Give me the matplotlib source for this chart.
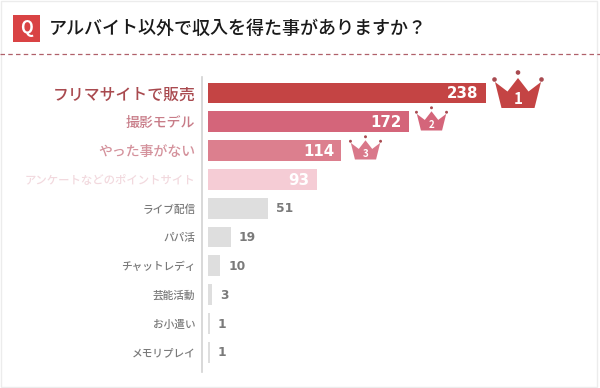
import matplotlib
matplotlib.use('Agg')
import matplotlib.pyplot as plt
from matplotlib.patches import Polygon, Circle, Rectangle

plt.rcParams['font.family'] = ['Noto Sans CJK JP', 'DejaVu Sans']

title = 'アルバイト以外で収入を得た事がありますか？'
categories = ['フリマサイトで販売', '撮影モデル', 'やった事がない', 'アンケートなどのポイントサイト',
              'ライブ配信', 'パパ活', 'チャットレディ', '芸能活動', 'お小遣い', 'メモリプレイ']
values = [238, 172, 114, 93, 51, 19, 10, 3, 1, 1]

bar_colors = ['#c44444', '#d4657a', '#dc7f8e', '#f5ccd5'] + ['#dedede'] * 6
label_colors = ['#a94a4f', '#c87c88', '#d4929c', '#f2d9de'] + ['#7a7a7a'] * 6
label_sizes = [11.4, 10, 10, 8.2, 7.7, 7.7, 7.7, 7.7, 7.7, 7.7]

W, H = 600, 388
fig = plt.figure(figsize=(W / 100, H / 100), dpi=100, facecolor='white')

# overlay in pixel coords for the header and crowns
deco = fig.add_axes([0, 0, 1, 1], zorder=3)
deco.set_xlim(0, W)
deco.set_ylim(H, 0)
deco.axis('off')
deco.patch.set_alpha(0)

deco.add_patch(Rectangle((1, 0.5), 596, 386, fc='none', ec='#ececec', lw=1))
deco.add_patch(Rectangle((13, 15), 27, 27, fc='#d94344', ec='none'))
deco.text(26.5, 28, 'Q', color='white', fontsize=12, fontweight='bold', ha='center', va='center')
deco.text(49, 28.5, title, color='#1a1a1a', fontsize=13, fontweight='medium', ha='left', va='center')
deco.plot([0, 600], [53.5, 53.5], color='#b0606a', lw=0.9, dashes=(3.6, 2.6))

# bars: 1.164 px per respondent, rows 28.8 px apart
left_px, px_per_unit = 208.5, 1.164
top_px, bottom_px, row_px, first_px = 76.5, 372, 28.8, 93
ax = fig.add_axes([left_px / W, 1 - bottom_px / H, (W - left_px) / W, (bottom_px - top_px) / H])
ax.set_xlim(0, (W - left_px) / px_per_unit)
ax.set_ylim((bottom_px - first_px) / row_px, (top_px - first_px) / row_px)
ax.patch.set_alpha(0)

pos = list(range(len(values)))
ax.barh(pos, values, height=0.72, color=bar_colors)

for s in ['top', 'right', 'bottom']:
    ax.spines[s].set_visible(False)
ax.spines['left'].set_position(('outward', 4.7))
ax.spines['left'].set_color('#d2d2d2')
ax.spines['left'].set_linewidth(1.2)
ax.set_xticks([])
ax.set_yticks(pos)
ax.set_yticklabels(categories, fontweight='medium')
ax.tick_params(axis='y', length=0, pad=4.8)
for lab, c, sz in zip(ax.get_yticklabels(), label_colors, label_sizes):
    lab.set_color(c)
    lab.set_fontsize(sz)

for i, v in enumerate(values):
    if i < 4:
        ax.annotate(str(v), (v, i), xytext=(-5, -0.5), textcoords='offset points', ha='right',
                    va='center', color='white', fontsize=10.8, fontweight='bold', family='DejaVu Sans')
    else:
        ax.annotate(str(v), (v, i), xytext=(6, -0.5), textcoords='offset points', ha='left',
                    va='center', color='#7a7a7a', fontsize=8.8, fontweight='bold', family='DejaVu Sans')


def crown(cx, bottom, s, color, dot, num, fs):
    pts = [(-16.5, 0), (-23, -26), (-10.5, -16.5), (0, -30), (10.5, -16.5), (23, -26), (16.5, 0)]
    deco.add_patch(Polygon([(cx + x * s, bottom + y * s) for x, y in pts], fc=color, ec='none'))
    for x, y in [(-23.5, -28.5), (0, -35.5), (23.5, -28.5)]:
        deco.add_patch(Circle((cx + x * s, bottom + y * s), 2.3 * s, fc=dot, ec='none'))
    deco.text(cx, bottom - 8.5 * s, num, color='white', fontsize=fs, fontweight='bold', ha='center', va='center')


crown(518, 108, 1.0, '#c44444', '#a84a50', '1', 11)
crown(431.5, 130.5, 0.64, '#d4657a', '#a84a50', '2', 7)
crown(365.5, 159.5, 0.64, '#d9788a', '#a84a50', '3', 7)

fig.savefig('out.png', dpi=100)
